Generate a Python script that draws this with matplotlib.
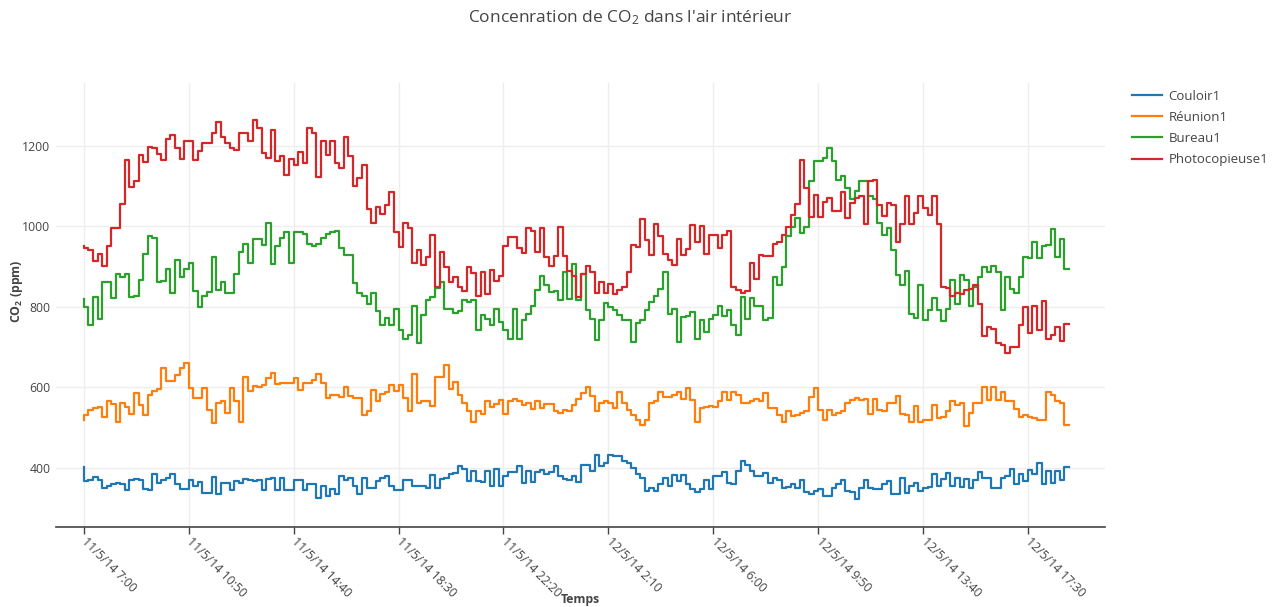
import matplotlib
matplotlib.use("Agg")
import matplotlib.pyplot as plt
import matplotlib.dates as mdates
from matplotlib.ticker import FuncFormatter
import pandas as pd

plt.rcParams['font.family'] = ['Open Sans', 'DejaVu Sans']
plt.rcParams['mathtext.fontset'] = 'custom'
plt.rcParams['mathtext.rm'] = 'Open Sans'
plt.rcParams['mathtext.bf'] = 'Open Sans:bold'
plt.rcParams['mathtext.default'] = 'regular'

# mesures toutes les 10 minutes, du 11/5 7:00 au 12/5 19:00
temps = pd.date_range('2014-05-11 07:00', periods=217, freq='10min')
graduations = pd.date_range('2014-05-11 07:00', periods=10, freq='230min')

couloir1 = [
    402, 367, 371, 378, 369, 351, 355, 359, 363, 359, 345, 371, 373, 370, 348, 345, 384, 363, 371, 375,
    384, 359, 348, 348, 370, 355, 365, 338, 338,
    378, 334, 363, 363, 346, 367, 363, 373, 371, 367, 371, 345, 373, 375, 345, 374, 345, 345, 371, 371,
    346, 359, 359, 326, 355, 330, 348,
    334, 379, 371, 375, 356, 334, 375, 351, 351, 367, 375, 379, 355, 346, 346, 371, 371, 355, 355, 355,
    351, 381, 351, 373, 375, 384, 386, 404,
    396, 367, 392, 367, 365, 392, 355, 398, 356, 379, 389, 389, 404, 363, 392, 365, 389, 394, 384, 389,
    404, 379, 373, 371, 379, 365, 406,
    408, 392, 433, 404, 412, 433, 430, 429, 416, 412, 400, 384, 375, 342, 351, 342, 359, 375, 356, 381,
    367, 381, 359, 347, 340, 347, 371, 347, 379, 379, 389, 363, 359, 392, 416, 408, 392, 379, 379, 386,
    363, 375, 371, 351, 353, 361, 351, 371, 340, 334, 342, 348, 330,
    330, 351, 359, 371, 342, 340, 323, 351, 371, 351, 347, 347, 359, 367, 334, 334, 375, 338, 356, 363,
    342, 351, 353, 384, 355, 373, 388, 356, 375, 353, 373, 351, 371, 389, 375, 375, 351, 351, 375, 379,
    398, 361, 384, 367, 394, 384, 411, 361, 392, 363, 392, 371, 402,
]

reunion1 = [
    520, 530, 544, 548, 552, 526, 565, 559, 513, 562, 552, 533, 585, 556, 531, 581, 591, 595, 647, 616,
    616, 630, 649, 661, 598, 573, 573, 598, 544,
    511, 561, 565, 537, 598, 565, 515, 626, 590, 604, 602, 606, 622, 636, 608, 610, 611, 610, 624, 593,
    610, 611, 618, 633, 611, 573, 580,
    581, 577, 600, 579, 573, 573, 532, 540, 594, 565, 583, 589, 606, 592, 606, 573, 540, 633, 561, 565,
    565, 554, 626, 626, 655, 595, 614, 580,
    561, 540, 515, 542, 534, 565, 552, 559, 569, 533, 565, 570, 565, 556, 562, 546, 565, 548, 559, 559,
    542, 536, 544, 540, 556, 570, 585,
    602, 579, 540, 562, 565, 561, 548, 589, 561, 544, 532, 519, 507, 519, 561, 565, 589, 577, 577, 581,
    589, 570, 598, 569, 515, 548, 552, 554, 552, 565, 589, 569, 589, 581, 562, 562, 567, 570, 567, 587,
    548, 548, 532, 515, 540, 528, 532, 536, 540, 577, 598, 544, 519,
    544, 532, 537, 540, 562, 569, 573, 569, 570, 534, 570, 544, 540, 561, 562, 579, 533, 532, 515, 554,
    515, 519, 519, 556, 523, 526, 540, 565, 556, 561, 505, 537, 562, 562, 602, 569, 600, 569, 589, 567,
    567, 546, 526, 532, 526, 523, 519, 519, 589, 581, 567, 562, 507,
]

bureau1 = [
    820, 800, 756, 824, 770, 861, 861, 822, 881, 873, 881, 824, 828, 867, 931, 975, 972, 861, 865, 894,
    834, 916, 873, 894, 910, 839, 799, 826, 836,
    923, 842, 861, 834, 834, 881, 935, 957, 908, 968, 968, 954, 1007, 906, 951, 972, 987, 910, 987, 987,
    980, 957, 950, 957, 972, 980, 985,
    988, 947, 929, 929, 858, 834, 828, 807, 834, 789, 756, 773, 756, 795, 742, 721, 729, 801, 709, 779,
    816, 824, 846, 861, 795, 795, 784, 790,
    816, 812, 816, 743, 779, 770, 756, 795, 762, 742, 719, 795, 719, 766, 781, 803, 842, 877, 853, 836,
    840, 816, 886, 820, 906, 817, 881,
    791, 770, 717, 768, 809, 799, 791, 779, 766, 766, 713, 760, 768, 791, 812, 828, 844, 886, 783, 795,
    713, 775, 776, 787, 721, 768, 737, 770, 779, 801, 776, 791, 754, 729, 824, 770, 822, 801, 801, 768,
    773, 873, 853, 898, 976, 998, 1021, 984, 998, 1112, 1161, 1161, 1170,
    1194, 1163, 1114, 1126, 1094, 1067, 1087, 1112, 1112, 1075, 1067, 1009, 979, 997, 942, 880, 855, 888,
    783, 773, 853, 768, 791, 822, 793, 765, 795, 867, 806, 880, 867, 801, 850, 875, 900, 886, 902, 886,
    793, 875, 844, 834, 873, 923, 921, 962, 921, 951, 954, 993, 923, 968, 895,
]

photocopieuse1 = [
    952, 947, 940, 915, 930, 902, 950, 995, 997, 1056, 1164, 1097, 1112, 1178, 1159, 1196, 1194, 1180,
    1165, 1217, 1227, 1194, 1168, 1211, 1212, 1165, 1186, 1208, 1208,
    1231, 1260, 1223, 1207, 1194, 1190, 1231, 1231, 1212, 1264, 1244, 1182, 1170, 1238, 1161, 1174, 1127,
    1168, 1153, 1184, 1157, 1245, 1231, 1122, 1211, 1178, 1211,
    1157, 1146, 1223, 1174, 1101, 1119, 1153, 1044, 1007, 1048, 1030, 1053, 1086, 987, 949, 1007, 995,
    909, 942, 904, 923, 978, 849, 935, 900, 861, 873, 850,
    839, 898, 883, 828, 886, 832, 891, 865, 877, 951, 974, 974, 947, 933, 995, 988, 935, 997, 923, 902,
    927, 998, 927, 888, 877, 824, 881,
    902, 886, 835, 861, 835, 857, 832, 842, 849, 886, 954, 949, 1017, 965, 929, 1005, 976, 931, 917, 905,
    968, 928, 943, 1003, 960, 1001, 931, 979, 979, 947, 979, 988, 850, 842, 834, 839, 910, 869, 929, 927,
    925, 957, 962, 979, 999, 1028, 1056, 1164, 1095, 1023, 1079, 1023, 1060,
    1071, 1038, 1038, 1086, 1021, 1058, 1071, 1075, 1005, 1112, 1116, 1054, 1026, 1057, 1053, 960, 1005,
    1075, 1005, 1034, 1075, 1046, 1028, 1075, 1005, 850, 847, 826, 835, 832, 842, 844, 853, 806, 727,
    750, 746, 709, 705, 686, 700, 699, 756, 799, 736, 803, 743, 814, 721, 729, 750, 715, 758,
]

series = [
    ('Couloir1', couloir1, '#1f77b4'),
    ('Réunion1', reunion1, '#ff7f0e'),
    ('Bureau1', bureau1, '#2ca02c'),
    ('Photocopieuse1', photocopieuse1, '#d62728'),
]

gris = '#444444'
fig = plt.figure(figsize=(12.87, 6.07), dpi=100)
ax = fig.add_axes([56 / 1287, 80 / 607, 1049 / 1287, 444 / 607])

for nom, valeurs, couleur in series:
    ax.plot(temps, valeurs, drawstyle='steps-pre', color=couleur, lw=1.6, label=nom)

ax.set_xlim(temps[0] - pd.Timedelta(minutes=61), temps[0] + pd.Timedelta(minutes=2239))
ax.set_ylim(253, 1356)

ax.set_xticks(graduations)
ax.xaxis.set_major_formatter(FuncFormatter(
    lambda v, pos: (lambda d: f"{d.day}/{d.month}/{d:%y} {d.hour}:{d.minute:02d}")(mdates.num2date(v))))
ax.set_yticks([400, 600, 800, 1000, 1200])

ax.grid(True, color='#eeeeee', lw=1)
ax.set_axisbelow(True)
for cote in ['left', 'right', 'top']:
    ax.spines[cote].set_visible(False)
ax.spines['bottom'].set_color(gris)
ax.spines['bottom'].set_linewidth(1.2)

ax.tick_params(axis='x', colors=gris, length=5, width=1, labelsize=8.8, pad=4)
ax.tick_params(axis='y', colors=gris, length=0, labelsize=8.8, pad=4)
for lab in ax.get_xticklabels():
    lab.set_rotation(-45)
    lab.set_ha('left')
    lab.set_va('center')
    lab.set_rotation_mode('anchor')

ax.set_xlabel('Temps', fontsize=8.8, fontweight='bold', color=gris)
ax.xaxis.set_label_coords((580 - 56) / 1049, -(600 - 527) / 444)
ax.set_ylabel('CO$_2$ (ppm)', fontsize=8.8, fontweight='bold', color=gris)
ax.yaxis.set_label_coords(-(56 - 17) / 1049, (527 - 291) / 444)
ax.xaxis.label.set_va('center')
ax.yaxis.label.set_va('center')

fig.suptitle("Concenration de CO$_2$ dans l'air intérieur", x=630 / 1287, y=1 - 8 / 607,
             va='top', fontsize=12.5, color=gris)

ax.legend(loc='upper left', bbox_to_anchor=(1125 / 1287, 1 - 83 / 607),
          bbox_transform=fig.transFigure, frameon=False, fontsize=9.5,
          handlelength=2.3, handletextpad=0.5, labelspacing=0.62, borderpad=0,
          labelcolor=gris)

fig.savefig('out.png', dpi=100)
